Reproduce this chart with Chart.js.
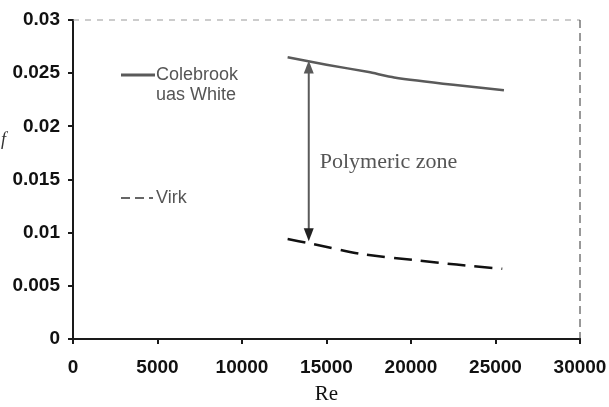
<!DOCTYPE html>
<html>
<head>
<meta charset="utf-8">
<script src="https://cdn.jsdelivr.net/npm/chart.js@4/dist/chart.umd.min.js"></script>
<style>
  html, body { margin: 0; padding: 0; background: #fff; }
</style>
</head>
<body>
<canvas id="chart" width="609" height="407"></canvas>
<script>
// Data -----------------------------------------------------------------------------------

var colebrookRe = [12700, 15000, 17500, 19000, 22500, 25500];
var colebrookF = [0.0265, 0.0258, 0.0251, 0.0246, 0.0239, 0.0234];

var virkRe = [12700, 14000, 17000, 20300, 22700, 25400];
var virkF = [0.0094, 0.0090, 0.0080, 0.0074, 0.0070, 0.0066];

var xTicks = [0, 5000, 10000, 15000, 20000, 25000, 30000];
var yTicks = [0, 0.005, 0.01, 0.015, 0.02, 0.025, 0.03];

var seriesLabels = ['Colebrook uas White', 'Virk'];

// arrow marking the polymeric zone
var arrowRe = 13950;
var arrowTopF = 0.0262;
var arrowBottomF = 0.0092;
var zoneLabel = 'Polymeric zone';
var zoneRe = 14600;
var zoneF = 0.0166;

// Constants ------------------------------------------------------------------------------

var AXIS_COLOR = '#1a1a1a';
var GREY = '#5a5a5a';
var TICK_FONT = { family: 'Liberation Sans', size: 19, weight: 'bold' };

// Functions ------------------------------------------------------------------------------

function toPoints(xs, ys) {
    return xs.map(function (x, i) { return { x: x, y: ys[i] }; });
}

function arrowHead(ctx, x, y, dir) {
    ctx.beginPath();
    ctx.moveTo(x, y);
    ctx.lineTo(x - 5, y + dir * 13);
    ctx.lineTo(x + 5, y + dir * 13);
    ctx.closePath();
    ctx.fill();
}

var decorations = {
    id: 'decorations',
    afterDraw: function (chart) {
        var ctx = chart.ctx;
        var area = chart.chartArea;
        var xs = chart.scales.x;
        var ys = chart.scales.y;
        ctx.save();

        // top and right frame
        ctx.setLineDash([6, 6]);
        ctx.strokeStyle = '#999';
        ctx.lineWidth = 1;
        ctx.beginPath();
        ctx.moveTo(area.left, area.top);
        ctx.lineTo(area.right, area.top);
        ctx.stroke();
        ctx.strokeStyle = '#333';
        ctx.setLineDash([8, 5]);
        ctx.beginPath();
        ctx.moveTo(area.right, area.top);
        ctx.lineTo(area.right, area.bottom);
        ctx.stroke();
        ctx.setLineDash([]);

        // double arrow
        var ax = xs.getPixelForValue(arrowRe);
        var top = ys.getPixelForValue(arrowTopF);
        var bot = ys.getPixelForValue(arrowBottomF);
        ctx.strokeStyle = GREY;
        ctx.fillStyle = GREY;
        ctx.lineWidth = 2;
        ctx.beginPath();
        ctx.moveTo(ax, top + 6);
        ctx.lineTo(ax, bot - 6);
        ctx.stroke();
        arrowHead(ctx, ax, top, 1);
        ctx.fillStyle = '#222';
        arrowHead(ctx, ax, bot, -1);

        ctx.fillStyle = '#555';
        ctx.font = '22px "Liberation Serif"';
        ctx.textAlign = 'left';
        ctx.textBaseline = 'middle';
        ctx.fillText(zoneLabel, xs.getPixelForValue(zoneRe), ys.getPixelForValue(zoneF));

        // legend inside the plot
        ctx.font = '18px "Liberation Sans"';
        ctx.fillStyle = '#555';
        ctx.strokeStyle = GREY;
        ctx.lineWidth = 3;
        ctx.beginPath();
        ctx.moveTo(121, 75);
        ctx.lineTo(155, 75);
        ctx.stroke();
        var words = seriesLabels[0].split(' ');
        ctx.fillText(words[0], 156, 75);
        ctx.fillText(words.slice(1).join(' '), 156, 95);

        ctx.strokeStyle = '#666';
        ctx.lineWidth = 2;
        ctx.setLineDash([9, 5]);
        ctx.beginPath();
        ctx.moveTo(121, 198);
        ctx.lineTo(153, 198);
        ctx.stroke();
        ctx.setLineDash([]);
        ctx.fillText(seriesLabels[1], 156, 198);

        // y axis title
        ctx.font = 'italic 18px "Liberation Serif"';
        ctx.fillStyle = '#333';
        ctx.fillText('f', 1, 140);

        ctx.restore();
    }
};

function initChart() {
    var context = document.getElementById('chart').getContext('2d');
    new Chart(context, {
        type: 'line',
        data: {
            datasets: [{
                label: seriesLabels[0],
                data: toPoints(colebrookRe, colebrookF),
                borderColor: GREY,
                borderWidth: 2.5,
                pointRadius: 0,
                tension: 0.2,
                fill: false
            }, {
                label: seriesLabels[1],
                data: toPoints(virkRe, virkF),
                borderColor: '#111',
                borderWidth: 2.5,
                borderDash: [18, 9],
                pointRadius: 0,
                tension: 0.2,
                fill: false
            }]
        },
        options: {
            responsive: false,
            animation: false,
            layout: { padding: { top: 20, right: 29, left: 0, bottom: 0 } },
            plugins: {
                legend: { display: false },
                tooltip: { enabled: false }
            },
            scales: {
                x: {
                    type: 'linear',
                    min: 0,
                    max: 30000,
                    afterBuildTicks: function (scale) {
                        scale.ticks = xTicks.map(function (v) { return { value: v }; });
                    },
                    afterFit: function (scale) {
                        scale.height = 68;
                        scale.paddingLeft = 0;
                        scale.paddingRight = 0;
                    },
                    grid: { drawOnChartArea: false, drawTicks: true, tickLength: 5, color: AXIS_COLOR, lineWidth: 2 },
                    border: { display: true, color: AXIS_COLOR, width: 2 },
                    ticks: {
                        color: '#111',
                        font: TICK_FONT,
                        padding: 12,
                        maxRotation: 0,
                        callback: function (v) { return String(v); }
                    },
                    title: {
                        display: true,
                        text: 'Re',
                        color: '#111',
                        font: { family: 'Liberation Serif', size: 21 },
                        padding: { top: 0, bottom: 0 }
                    }
                },
                y: {
                    min: 0,
                    max: 0.03,
                    afterBuildTicks: function (scale) {
                        scale.ticks = yTicks.map(function (v) { return { value: v }; });
                    },
                    afterFit: function (scale) {
                        scale.width = 73;
                        scale.paddingTop = 0;
                        scale.paddingBottom = 0;
                    },
                    grid: { drawOnChartArea: false, drawTicks: true, tickLength: 5, color: AXIS_COLOR, lineWidth: 2 },
                    border: { display: true, color: AXIS_COLOR, width: 2 },
                    ticks: {
                        color: '#111',
                        font: TICK_FONT,
                        padding: 8,
                        callback: function (v) { return String(Math.round(v * 1000) / 1000); }
                    }
                }
            }
        },
        plugins: [decorations]
    });
}

initChart();
</script>
</body>
</html>
